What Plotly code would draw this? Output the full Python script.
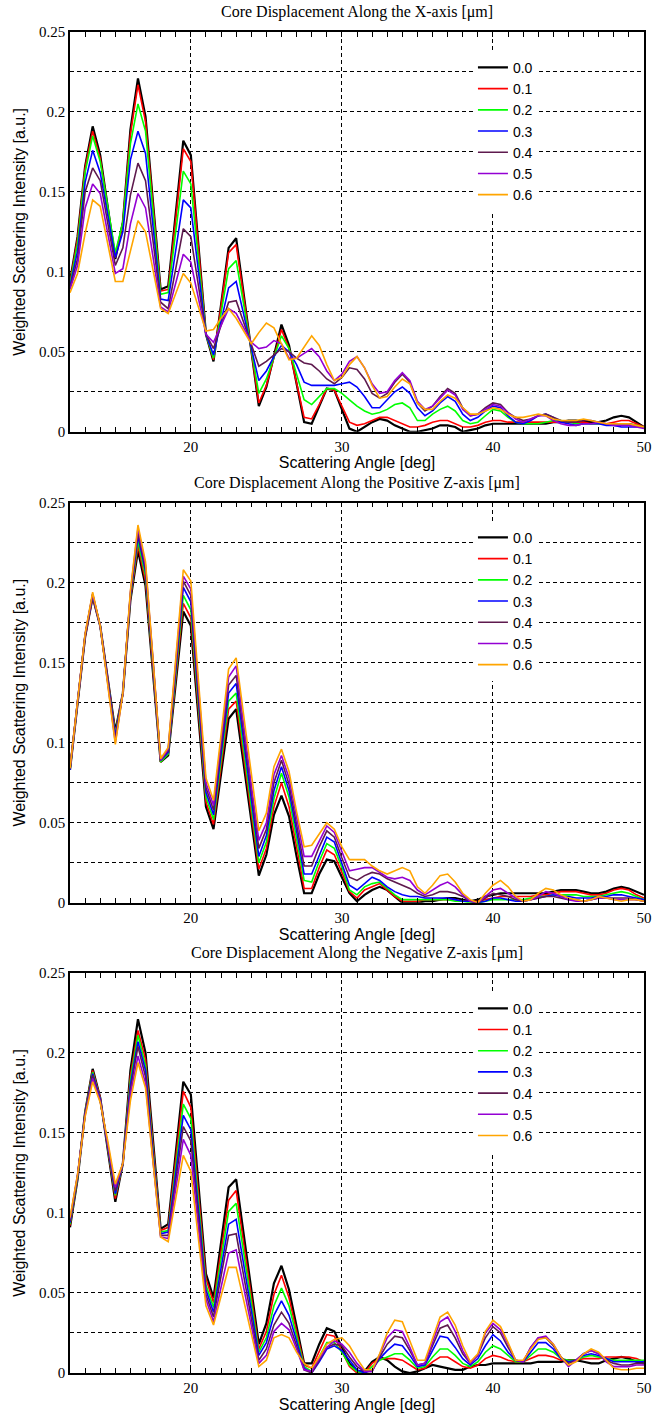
import plotly.graph_objects as go

# Scattering angle samples [deg]
angle = [12.0, 12.5, 13.0, 13.5, 14.0, 14.5, 15.0, 15.5, 16.0,
         16.5, 17.0, 17.5, 18.0, 18.5, 19.0, 19.5, 20.0, 20.5,
         21.0, 21.5, 22.0, 22.5, 23.0, 23.5, 24.0, 24.5, 25.0,
         25.5, 26.0, 26.5, 27.0, 27.5, 28.0, 28.5, 29.0, 29.5,
         30.0, 30.5, 31.0, 31.5, 32.0, 32.5, 33.0, 33.5, 34.0,
         34.5, 35.0, 35.5, 36.0, 36.5, 37.0, 37.5, 38.0, 38.5,
         39.0, 39.5, 40.0, 40.5, 41.0, 41.5, 42.0, 42.5, 43.0,
         43.5, 44.0, 44.5, 45.0, 45.5, 46.0, 46.5, 47.0, 47.5,
         48.0, 48.5, 49.0, 49.5, 50.0]

displacements = ["0.0", "0.1", "0.2", "0.3", "0.4", "0.5", "0.6"]

# ---------------- Panel 1: displacement along X ----------------
x_d00 = [0.094, 0.122, 0.166, 0.191, 0.173, 0.141, 0.108, 0.131, 0.189,
         0.221, 0.197, 0.143, 0.089, 0.091, 0.137, 0.182, 0.173, 0.117,
         0.061, 0.044, 0.080, 0.115, 0.121, 0.086, 0.052, 0.016, 0.028,
         0.047, 0.067, 0.054, 0.030, 0.006, 0.005, 0.016, 0.027, 0.026,
         0.014, 0.002, 0.000, 0.003, 0.006, 0.008, 0.007, 0.004, 0.002,
         0.000, 0.000, 0.001, 0.002, 0.004, 0.004, 0.003, 0.000, 0.001,
         0.002, 0.004, 0.005, 0.005, 0.005, 0.005, 0.005, 0.005, 0.005,
         0.005, 0.006, 0.006, 0.007, 0.007, 0.006, 0.006, 0.006, 0.007,
         0.009, 0.010, 0.009, 0.006, 0.003]
x_d01 = [0.093, 0.121, 0.165, 0.188, 0.171, 0.140, 0.109, 0.131, 0.186,
         0.217, 0.194, 0.141, 0.088, 0.089, 0.133, 0.177, 0.169, 0.115,
         0.061, 0.045, 0.079, 0.112, 0.117, 0.085, 0.052, 0.018, 0.029,
         0.047, 0.064, 0.052, 0.031, 0.009, 0.008, 0.017, 0.027, 0.026,
         0.016, 0.006, 0.004, 0.005, 0.007, 0.009, 0.009, 0.007, 0.005,
         0.003, 0.003, 0.004, 0.006, 0.007, 0.007, 0.005, 0.003, 0.003,
         0.004, 0.006, 0.007, 0.007, 0.006, 0.006, 0.006, 0.006, 0.006,
         0.006, 0.006, 0.006, 0.006, 0.006, 0.006, 0.005, 0.005, 0.005,
         0.006, 0.007, 0.007, 0.005, 0.003]
x_d02 = [0.092, 0.118, 0.162, 0.185, 0.169, 0.141, 0.112, 0.131, 0.180,
         0.205, 0.188, 0.137, 0.086, 0.087, 0.125, 0.163, 0.155, 0.108,
         0.061, 0.046, 0.075, 0.102, 0.107, 0.080, 0.053, 0.024, 0.033,
         0.046, 0.060, 0.052, 0.036, 0.020, 0.017, 0.022, 0.027, 0.027,
         0.024, 0.020, 0.016, 0.013, 0.011, 0.012, 0.014, 0.017, 0.018,
         0.015, 0.007, 0.007, 0.011, 0.014, 0.016, 0.013, 0.007, 0.005,
         0.006, 0.010, 0.014, 0.013, 0.009, 0.006, 0.005, 0.005, 0.005,
         0.006, 0.007, 0.007, 0.006, 0.005, 0.005, 0.005, 0.005, 0.005,
         0.005, 0.005, 0.005, 0.004, 0.003]
x_d03 = [0.091, 0.113, 0.156, 0.176, 0.162, 0.136, 0.109, 0.125, 0.170,
         0.188, 0.174, 0.128, 0.083, 0.082, 0.114, 0.145, 0.140, 0.100,
         0.061, 0.048, 0.069, 0.090, 0.094, 0.074, 0.054, 0.032, 0.038,
         0.047, 0.054, 0.050, 0.042, 0.031, 0.029, 0.029, 0.029, 0.029,
         0.030, 0.031, 0.028, 0.022, 0.015, 0.015, 0.020, 0.025, 0.028,
         0.024, 0.015, 0.010, 0.013, 0.018, 0.022, 0.019, 0.011, 0.007,
         0.009, 0.013, 0.016, 0.015, 0.010, 0.006, 0.005, 0.007, 0.010,
         0.011, 0.009, 0.006, 0.005, 0.004, 0.005, 0.005, 0.005, 0.004,
         0.004, 0.003, 0.003, 0.003, 0.003]
x_d04 = [0.090, 0.108, 0.150, 0.165, 0.157, 0.130, 0.104, 0.115, 0.148,
         0.168, 0.157, 0.119, 0.081, 0.077, 0.102, 0.127, 0.122, 0.092,
         0.061, 0.052, 0.067, 0.081, 0.082, 0.068, 0.054, 0.041, 0.044,
         0.048, 0.052, 0.050, 0.046, 0.043, 0.042, 0.038, 0.033, 0.030,
         0.034, 0.040, 0.039, 0.033, 0.024, 0.021, 0.024, 0.031, 0.036,
         0.031, 0.018, 0.013, 0.016, 0.022, 0.027, 0.024, 0.015, 0.010,
         0.011, 0.015, 0.018, 0.017, 0.012, 0.009, 0.007, 0.008, 0.010,
         0.011, 0.009, 0.007, 0.006, 0.006, 0.007, 0.007, 0.006, 0.005,
         0.005, 0.005, 0.005, 0.004, 0.003]
x_d05 = [0.089, 0.104, 0.140, 0.155, 0.149, 0.124, 0.099, 0.102, 0.130,
         0.149, 0.140, 0.109, 0.078, 0.075, 0.093, 0.111, 0.106, 0.083,
         0.061, 0.056, 0.066, 0.077, 0.074, 0.065, 0.056, 0.052, 0.053,
         0.057, 0.055, 0.046, 0.046, 0.049, 0.052, 0.047, 0.038, 0.032,
         0.036, 0.044, 0.047, 0.040, 0.030, 0.024, 0.025, 0.032, 0.037,
         0.032, 0.019, 0.014, 0.016, 0.021, 0.026, 0.023, 0.014, 0.010,
         0.011, 0.014, 0.017, 0.016, 0.012, 0.008, 0.006, 0.008, 0.010,
         0.010, 0.007, 0.005, 0.004, 0.004, 0.005, 0.005, 0.006, 0.005,
         0.004, 0.004, 0.004, 0.003, 0.002]
x_d06 = [0.087, 0.099, 0.124, 0.145, 0.141, 0.117, 0.094, 0.094, 0.113,
         0.132, 0.125, 0.101, 0.077, 0.074, 0.087, 0.099, 0.093, 0.078,
         0.063, 0.064, 0.071, 0.077, 0.071, 0.063, 0.055, 0.062, 0.068,
         0.065, 0.055, 0.045, 0.046, 0.053, 0.060, 0.054, 0.042, 0.032,
         0.034, 0.042, 0.047, 0.040, 0.029, 0.021, 0.022, 0.028, 0.033,
         0.030, 0.018, 0.014, 0.014, 0.019, 0.023, 0.021, 0.015, 0.011,
         0.011, 0.013, 0.015, 0.014, 0.011, 0.009, 0.009, 0.010, 0.011,
         0.010, 0.008, 0.007, 0.007, 0.007, 0.008, 0.007, 0.006, 0.005,
         0.005, 0.005, 0.005, 0.004, 0.003]

# ---------------- Panel 2: displacement along +Z ----------------
pz_d00 = [0.083, 0.124, 0.166, 0.191, 0.173, 0.140, 0.107, 0.131, 0.189,
          0.220, 0.198, 0.143, 0.088, 0.092, 0.137, 0.182, 0.173, 0.117,
          0.060, 0.046, 0.080, 0.115, 0.121, 0.086, 0.051, 0.017, 0.030,
          0.055, 0.067, 0.054, 0.029, 0.006, 0.006, 0.018, 0.027, 0.026,
          0.016, 0.006, 0.001, 0.005, 0.008, 0.010, 0.008, 0.004, 0.000,
          0.000, 0.000, 0.001, 0.001, 0.002, 0.003, 0.003, 0.002, 0.001,
          0.002, 0.004, 0.005, 0.006, 0.006, 0.006, 0.006, 0.006, 0.006,
          0.006, 0.007, 0.008, 0.008, 0.008, 0.007, 0.006, 0.006, 0.007,
          0.009, 0.010, 0.009, 0.007, 0.005]
pz_d01 = [0.083, 0.124, 0.166, 0.191, 0.173, 0.140, 0.106, 0.131, 0.190,
          0.223, 0.201, 0.145, 0.088, 0.093, 0.140, 0.187, 0.178, 0.121,
          0.063, 0.049, 0.085, 0.121, 0.126, 0.091, 0.055, 0.021, 0.034,
          0.060, 0.075, 0.060, 0.035, 0.009, 0.009, 0.022, 0.033, 0.030,
          0.019, 0.007, 0.003, 0.008, 0.010, 0.012, 0.008, 0.004, 0.001,
          0.001, 0.001, 0.002, 0.002, 0.002, 0.002, 0.002, 0.001, 0.001,
          0.001, 0.002, 0.003, 0.004, 0.004, 0.004, 0.004, 0.004, 0.005,
          0.005, 0.006, 0.007, 0.007, 0.007, 0.006, 0.005, 0.005, 0.006,
          0.008, 0.009, 0.008, 0.005, 0.003]
pz_d02 = [0.083, 0.124, 0.167, 0.192, 0.173, 0.139, 0.105, 0.131, 0.191,
          0.226, 0.204, 0.147, 0.088, 0.093, 0.143, 0.192, 0.183, 0.125,
          0.066, 0.052, 0.089, 0.126, 0.131, 0.095, 0.060, 0.025, 0.038,
          0.065, 0.081, 0.066, 0.040, 0.014, 0.013, 0.026, 0.037, 0.034,
          0.022, 0.008, 0.005, 0.010, 0.012, 0.013, 0.009, 0.005, 0.002,
          0.002, 0.002, 0.002, 0.002, 0.002, 0.002, 0.001, 0.001, 0.000,
          0.000, 0.001, 0.002, 0.002, 0.002, 0.002, 0.002, 0.003, 0.004,
          0.004, 0.005, 0.005, 0.005, 0.005, 0.004, 0.004, 0.004, 0.005,
          0.006, 0.007, 0.006, 0.004, 0.002]
pz_d03 = [0.083, 0.124, 0.167, 0.192, 0.173, 0.139, 0.104, 0.131, 0.192,
          0.229, 0.207, 0.149, 0.089, 0.094, 0.146, 0.197, 0.188, 0.129,
          0.069, 0.055, 0.093, 0.131, 0.137, 0.100, 0.064, 0.029, 0.042,
          0.070, 0.085, 0.070, 0.045, 0.018, 0.018, 0.030, 0.041, 0.038,
          0.025, 0.011, 0.008, 0.012, 0.016, 0.014, 0.010, 0.007, 0.005,
          0.004, 0.004, 0.003, 0.003, 0.003, 0.003, 0.002, 0.001, 0.001,
          0.000, 0.001, 0.003, 0.003, 0.002, 0.001, 0.001, 0.002, 0.003,
          0.004, 0.005, 0.004, 0.004, 0.003, 0.003, 0.003, 0.004, 0.004,
          0.005, 0.005, 0.004, 0.003, 0.002]
pz_d04 = [0.084, 0.124, 0.167, 0.193, 0.173, 0.138, 0.102, 0.131, 0.193,
          0.231, 0.209, 0.150, 0.089, 0.095, 0.148, 0.201, 0.192, 0.132,
          0.072, 0.058, 0.097, 0.136, 0.142, 0.105, 0.069, 0.034, 0.046,
          0.075, 0.089, 0.074, 0.049, 0.023, 0.023, 0.035, 0.045, 0.041,
          0.028, 0.016, 0.014, 0.017, 0.019, 0.018, 0.015, 0.013, 0.011,
          0.009, 0.006, 0.004, 0.005, 0.007, 0.007, 0.006, 0.004, 0.001,
          0.000, 0.003, 0.006, 0.005, 0.004, 0.002, 0.001, 0.002, 0.003,
          0.004, 0.004, 0.003, 0.002, 0.002, 0.001, 0.002, 0.003, 0.003,
          0.003, 0.003, 0.003, 0.002, 0.001]
pz_d05 = [0.084, 0.124, 0.168, 0.193, 0.173, 0.137, 0.100, 0.131, 0.194,
          0.234, 0.211, 0.151, 0.089, 0.096, 0.150, 0.204, 0.196, 0.136,
          0.075, 0.061, 0.101, 0.141, 0.148, 0.110, 0.074, 0.039, 0.050,
          0.080, 0.092, 0.078, 0.053, 0.029, 0.029, 0.039, 0.048, 0.044,
          0.032, 0.020, 0.021, 0.022, 0.022, 0.019, 0.016, 0.015, 0.016,
          0.014, 0.008, 0.005, 0.008, 0.011, 0.013, 0.010, 0.005, 0.001,
          0.000, 0.004, 0.008, 0.009, 0.006, 0.003, 0.001, 0.002, 0.004,
          0.007, 0.006, 0.004, 0.002, 0.001, 0.001, 0.002, 0.003, 0.003,
          0.002, 0.002, 0.002, 0.002, 0.001]
pz_d06 = [0.084, 0.124, 0.168, 0.194, 0.173, 0.136, 0.099, 0.131, 0.195,
          0.236, 0.213, 0.152, 0.090, 0.097, 0.152, 0.208, 0.201, 0.140,
          0.078, 0.064, 0.105, 0.146, 0.153, 0.116, 0.080, 0.045, 0.056,
          0.085, 0.096, 0.082, 0.057, 0.035, 0.036, 0.043, 0.050, 0.046,
          0.035, 0.027, 0.027, 0.027, 0.023, 0.020, 0.018, 0.020, 0.022,
          0.020, 0.010, 0.006, 0.011, 0.017, 0.018, 0.013, 0.006, 0.002,
          0.000, 0.006, 0.011, 0.014, 0.010, 0.004, 0.001, 0.002, 0.006,
          0.009, 0.008, 0.005, 0.003, 0.002, 0.001, 0.002, 0.004, 0.003,
          0.002, 0.001, 0.002, 0.002, 0.001]

# ---------------- Panel 3: displacement along -Z ----------------
nz_d00 = [0.091, 0.121, 0.163, 0.190, 0.172, 0.140, 0.107, 0.131, 0.189,
          0.221, 0.200, 0.145, 0.090, 0.093, 0.137, 0.182, 0.174, 0.118,
          0.062, 0.047, 0.081, 0.116, 0.121, 0.087, 0.053, 0.018, 0.031,
          0.056, 0.067, 0.052, 0.029, 0.006, 0.006, 0.018, 0.028, 0.026,
          0.016, 0.006, 0.001, 0.001, 0.007, 0.010, 0.008, 0.004, 0.001,
          0.000, 0.001, 0.003, 0.005, 0.004, 0.003, 0.002, 0.002, 0.004,
          0.005, 0.005, 0.006, 0.006, 0.006, 0.006, 0.006, 0.006, 0.007,
          0.007, 0.007, 0.007, 0.008, 0.008, 0.007, 0.006, 0.006, 0.008,
          0.009, 0.010, 0.009, 0.007, 0.006]
nz_d01 = [0.092, 0.122, 0.163, 0.189, 0.172, 0.141, 0.109, 0.131, 0.186,
          0.214, 0.196, 0.142, 0.089, 0.091, 0.133, 0.176, 0.166, 0.112,
          0.059, 0.044, 0.076, 0.108, 0.114, 0.081, 0.048, 0.015, 0.026,
          0.049, 0.061, 0.047, 0.026, 0.005, 0.003, 0.014, 0.024, 0.023,
          0.014, 0.004, 0.000, 0.000, 0.006, 0.009, 0.009, 0.009, 0.008,
          0.005, 0.002, 0.003, 0.007, 0.010, 0.010, 0.007, 0.004, 0.003,
          0.005, 0.009, 0.011, 0.010, 0.008, 0.007, 0.007, 0.009, 0.011,
          0.011, 0.010, 0.008, 0.008, 0.008, 0.009, 0.009, 0.009, 0.010,
          0.010, 0.010, 0.010, 0.009, 0.007]
nz_d02 = [0.093, 0.122, 0.163, 0.188, 0.171, 0.141, 0.111, 0.131, 0.183,
          0.211, 0.192, 0.139, 0.088, 0.089, 0.128, 0.168, 0.159, 0.107,
          0.055, 0.041, 0.071, 0.101, 0.106, 0.075, 0.043, 0.013, 0.022,
          0.042, 0.053, 0.042, 0.023, 0.004, 0.001, 0.010, 0.019, 0.019,
          0.013, 0.005, 0.001, 0.000, 0.004, 0.008, 0.010, 0.012, 0.012,
          0.008, 0.003, 0.004, 0.010, 0.015, 0.015, 0.011, 0.006, 0.004,
          0.007, 0.013, 0.017, 0.015, 0.011, 0.007, 0.007, 0.011, 0.015,
          0.015, 0.013, 0.009, 0.008, 0.008, 0.010, 0.011, 0.010, 0.009,
          0.008, 0.008, 0.008, 0.008, 0.008]
nz_d03 = [0.094, 0.123, 0.162, 0.187, 0.171, 0.142, 0.112, 0.131, 0.180,
          0.207, 0.189, 0.137, 0.087, 0.088, 0.124, 0.161, 0.152, 0.102,
          0.052, 0.038, 0.066, 0.093, 0.096, 0.068, 0.039, 0.011, 0.019,
          0.036, 0.045, 0.036, 0.020, 0.003, 0.000, 0.007, 0.015, 0.017,
          0.014, 0.008, 0.002, 0.000, 0.002, 0.009, 0.014, 0.018, 0.017,
          0.011, 0.004, 0.005, 0.014, 0.023, 0.022, 0.016, 0.009, 0.005,
          0.009, 0.017, 0.024, 0.020, 0.013, 0.008, 0.007, 0.013, 0.019,
          0.019, 0.015, 0.009, 0.007, 0.008, 0.011, 0.012, 0.011, 0.009,
          0.007, 0.007, 0.007, 0.007, 0.007]
nz_d04 = [0.095, 0.123, 0.162, 0.186, 0.170, 0.143, 0.114, 0.131, 0.177,
          0.204, 0.185, 0.134, 0.086, 0.086, 0.120, 0.154, 0.145, 0.096,
          0.049, 0.035, 0.060, 0.086, 0.087, 0.061, 0.034, 0.008, 0.015,
          0.030, 0.038, 0.031, 0.017, 0.002, 0.000, 0.008, 0.016, 0.018,
          0.017, 0.010, 0.004, 0.001, 0.001, 0.010, 0.018, 0.023, 0.022,
          0.014, 0.005, 0.006, 0.017, 0.028, 0.030, 0.022, 0.012, 0.006,
          0.011, 0.022, 0.029, 0.025, 0.016, 0.008, 0.007, 0.016, 0.022,
          0.022, 0.017, 0.010, 0.006, 0.008, 0.012, 0.014, 0.012, 0.008,
          0.006, 0.005, 0.005, 0.006, 0.006]
nz_d05 = [0.096, 0.124, 0.161, 0.184, 0.170, 0.144, 0.116, 0.131, 0.174,
          0.198, 0.181, 0.132, 0.085, 0.084, 0.115, 0.146, 0.136, 0.090,
          0.046, 0.032, 0.054, 0.075, 0.077, 0.053, 0.029, 0.006, 0.011,
          0.026, 0.031, 0.027, 0.015, 0.002, 0.001, 0.009, 0.016, 0.020,
          0.018, 0.013, 0.006, 0.001, 0.001, 0.011, 0.022, 0.027, 0.026,
          0.016, 0.005, 0.006, 0.019, 0.032, 0.035, 0.026, 0.014, 0.006,
          0.011, 0.025, 0.031, 0.027, 0.018, 0.008, 0.007, 0.016, 0.022,
          0.023, 0.018, 0.010, 0.004, 0.008, 0.012, 0.014, 0.012, 0.007,
          0.004, 0.004, 0.004, 0.005, 0.005]
nz_d06 = [0.097, 0.124, 0.160, 0.182, 0.169, 0.145, 0.118, 0.131, 0.170,
          0.194, 0.178, 0.131, 0.085, 0.082, 0.109, 0.136, 0.126, 0.084,
          0.042, 0.030, 0.048, 0.066, 0.066, 0.045, 0.024, 0.004, 0.008,
          0.022, 0.024, 0.022, 0.013, 0.006, 0.003, 0.010, 0.018, 0.021,
          0.022, 0.017, 0.009, 0.002, 0.002, 0.012, 0.025, 0.033, 0.032,
          0.020, 0.008, 0.008, 0.021, 0.035, 0.038, 0.030, 0.017, 0.007,
          0.012, 0.026, 0.033, 0.029, 0.019, 0.008, 0.008, 0.015, 0.021,
          0.022, 0.018, 0.010, 0.005, 0.007, 0.012, 0.015, 0.013, 0.008,
          0.003, 0.002, 0.002, 0.003, 0.003]

panel_titles = ["Core Displacement Along the X-axis [\u03bcm]",
                "Core Displacement Along the Positive Z-axis [\u03bcm]",
                "Core Displacement Along the Negative Z-axis [\u03bcm]"]
panel_series = [
    [x_d00, x_d01, x_d02, x_d03, x_d04, x_d05, x_d06],
    [pz_d00, pz_d01, pz_d02, pz_d03, pz_d04, pz_d05, pz_d06],
    [nz_d00, nz_d01, nz_d02, nz_d03, nz_d04, nz_d05, nz_d06],
]
for group in panel_series:
    for s in group:
        if len(s) != len(angle):
            raise ValueError("length mismatch %d" % len(s))

colors = ["#000000", "#ff0000", "#00ff00", "#0000ff", "#5e1a4e", "#9400d3", "#ffa500"]
widths = [2.2, 1.6, 1.6, 1.6, 1.6, 1.6, 1.6]

# layout geometry (plot-area fractions)
y_domains = [[0.7019, 1.0], [0.3506, 0.6491], [0.0, 0.2984]]
title_y = [1.0146, 0.6637, 0.3133]
legend_y = [0.9852, 0.6347, 0.2836]

SERIF = "Liberation Serif, Times New Roman, serif"
SANS = "Liberation Sans, Arial, sans-serif"
DASH = "4px,3px"

fig = go.Figure()
for p in range(3):
    xa = "x" if p == 0 else "x%d" % (p + 1)
    ya = "y" if p == 0 else "y%d" % (p + 1)
    lg = "legend" if p == 0 else "legend%d" % (p + 1)
    for k in range(7):
        fig.add_trace(go.Scatter(
            x=angle, y=panel_series[p][k], mode="lines",
            name=displacements[k], xaxis=xa, yaxis=ya, legend=lg,
            line=dict(color=colors[k], width=widths[k]),
        ))

layout = dict(
    width=668, height=1421,
    margin=dict(l=70, r=24, t=32, b=42),
    paper_bgcolor="white", plot_bgcolor="white",
    annotations=[],
)
for p in range(3):
    sx = "" if p == 0 else str(p + 1)
    layout["xaxis" + sx] = dict(
        domain=[0, 1], anchor="y" + sx, range=[12, 50],
        tick0=0, dtick=10, ticks="inside", ticklen=5, tickwidth=1, tickcolor="black",
        minor=dict(dtick=1, tick0=0, ticks="inside", ticklen=5, tickwidth=1,
                   tickcolor="black", showgrid=False),
        showgrid=True, gridcolor="black", gridwidth=1, griddash=DASH,
        showline=True, linecolor="black", linewidth=1.5, mirror="allticks",
        zeroline=False,
        tickfont=dict(family=SERIF, size=15, color="black"),
        title=dict(text="Scattering Angle [deg]", standoff=2,
                   font=dict(family=SANS, size=16, color="black")),
    )
    layout["yaxis" + sx] = dict(
        domain=y_domains[p], anchor="x" + sx, range=[0, 0.25],
        tick0=0, dtick=0.05, ticks="",
        minor=dict(dtick=0.025, tick0=0, showgrid=True, gridcolor="black",
                   gridwidth=1, griddash=DASH, ticks=""),
        showgrid=True, gridcolor="black", gridwidth=1, griddash=DASH,
        showline=True, linecolor="black", linewidth=1.5, mirror=True,
        zeroline=False,
        tickfont=dict(family=SERIF, size=15, color="black"),
        title=dict(text="Weighted Scattering Intensity [a.u.]", standoff=9,
                   font=dict(family=SANS, size=16, color="black")),
    )
    layout["legend" + sx] = dict(
        x=0.702, y=legend_y[p], xanchor="left", yanchor="top",
        bgcolor="white", borderwidth=0, tracegroupgap=0,
        font=dict(family=SANS, size=14, color="black"),
    )
    layout["annotations"].append(dict(
        text=panel_titles[p], xref="paper", yref="paper", x=0.5, y=title_y[p],
        xanchor="center", yanchor="middle", showarrow=False,
        font=dict(family=SERIF, size=16, color="black"),
    ))

fig.update_layout(**layout)
# remove the browser's default 8px body margin so the figure sits at the page origin
fig.write_html("out.html",
               config={"displayModeBar": False},
               post_script="document.body.style.margin='0';document.body.style.padding='0';")
